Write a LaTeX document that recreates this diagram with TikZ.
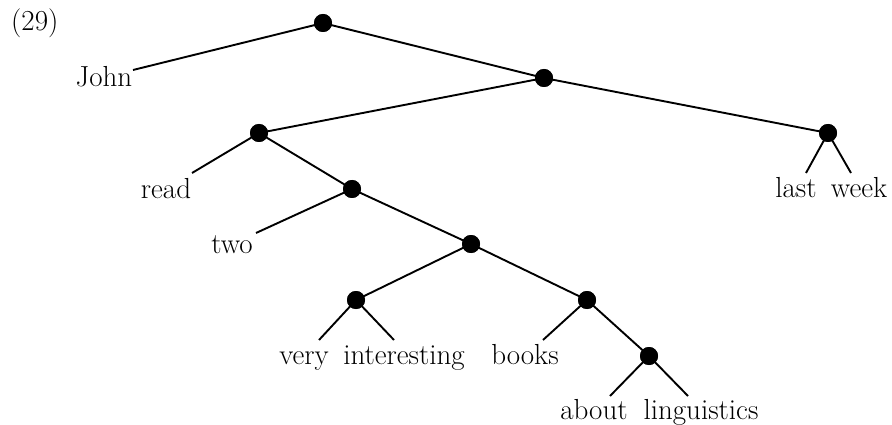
\documentclass[tikz,border=0pt]{standalone}
\begin{document}
\begin{tikzpicture}[x=1pt,y=-1pt,
  dot/.style={circle,fill=black,inner sep=0pt,minimum size=18pt},
  word/.style={anchor=base,inner sep=0pt,font=\fontsize{29}{34}\selectfont},
  edge/.style={line width=1.9pt}]
\useasboundingbox (0,0) rectangle (892,425);
\node[word,anchor=base west] (num) at (11,31) {(29)};
% internal nodes
\node[dot] (R) at (323,23) {};
\node[dot] (A) at (544,78) {};
\node[dot] (B) at (259,133) {};
\node[dot] (LW) at (828,133) {};
\node[dot] (C) at (352,189) {};
\node[dot] (D) at (471,244) {};
\node[dot] (E) at (356,300) {};
\node[dot] (F) at (587,300) {};
\node[dot] (G) at (649,356) {};
% words
\node[word] (john) at (104,87) {John};
\node[word] (read) at (166,198) {read};
\node[word] (two) at (232,253) {two};
\node[word] (last) at (796,197) {last};
\node[word] (week) at (859,197) {week};
\node[word] (very) at (304,364) {very};
\node[word] (interesting) at (404,364) {interesting};
\node[word] (books) at (525,364) {books};
\node[word] (about) at (594,419) {about};
\node[word] (linguistics) at (701,419) {linguistics};
% line ends
\coordinate (tJohn) at (133,70);
\coordinate (tRead) at (192,173);
\coordinate (tTwo) at (256,233);
\coordinate (tLast) at (806,173);
\coordinate (tWeek) at (851,173);
\coordinate (tVery) at (319,340);
\coordinate (tInt) at (394,340);
\coordinate (tBooks) at (543,340);
\coordinate (tAbout) at (610,396);
\coordinate (tLing) at (688,396);
% edges
\draw[edge] (tJohn) -- (R.center) -- (A.center);
\draw[edge] (B.center) -- (A.center) -- (LW.center);
\draw[edge] (tLast) -- (LW.center) -- (tWeek);
\draw[edge] (tRead) -- (B.center) -- (C.center);
\draw[edge] (tTwo) -- (C.center) -- (D.center);
\draw[edge] (E.center) -- (D.center) -- (F.center);
\draw[edge] (tVery) -- (E.center) -- (tInt);
\draw[edge] (tBooks) -- (F.center) -- (G.center);
\draw[edge] (tAbout) -- (G.center) -- (tLing);
% redraw dots on top
\foreach \n in {R,A,B,LW,C,D,E,F,G} \fill (\n) circle (9pt);
\end{tikzpicture}
\end{document}
